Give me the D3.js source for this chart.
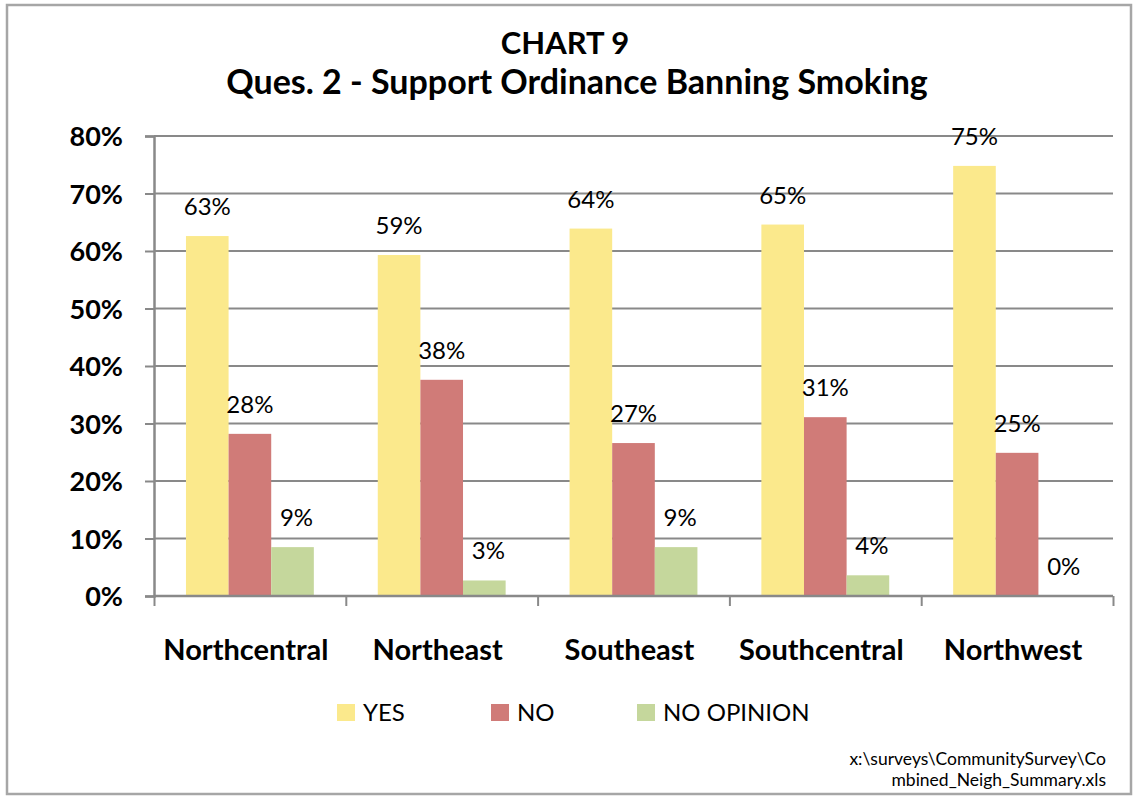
<!DOCTYPE html>
<html>
<head>
<meta charset="utf-8">
<script src="https://cdn.jsdelivr.net/npm/d3@7"></script>
<style>
  html, body { margin: 0; padding: 0; background: #fff; }
  svg { display: block; }
  text { font-family: Lato, "Open Sans", sans-serif; fill: #000; }
</style>
</head>
<body>
<script>
// ---- data ----
const categories = ["Northcentral", "Northeast", "Southeast", "Southcentral", "Northwest"];
const seriesNames = ["YES", "NO", "NO OPINION"];
const yesValues = [62.6, 59.3, 63.9, 64.6, 74.8];
const noValues = [28.2, 37.6, 26.6, 31.1, 24.9];
const noOpinionValues = [8.5, 2.7, 8.5, 3.6, 0];
const yTicks = [0, 10, 20, 30, 40, 50, 60, 70, 80];
const titleLines = ["CHART 9", "Ques. 2 - Support Ordinance Banning Smoking"];
const footnoteLines = ["x:\\surveys\\CommunitySurvey\\Co", "mbined_Neigh_Summary.xls"];

const colors = ["#fbe98c", "#d07b78", "#c5d79c"];
const seriesValues = [yesValues, noValues, noOpinionValues];

(function () {
const W = 1134, H = 796;
const svg = d3.select("body").append("svg").attr("width", W).attr("height", H);

// outer frame
svg.append("rect").attr("x", 7).attr("y", 5).attr("width", 1124).attr("height", 789)
  .attr("fill", "#fff").attr("stroke", "#a6a6a6").attr("stroke-width", 2.5);

// plot area
const pLeft = 154, pRight = 1113, pTop = 136, pBottom = 596;
const x0 = d3.scaleBand().domain(categories).range([pLeft, pRight]).paddingInner(0).paddingOuter(0);
const x1 = d3.scaleBand().domain(seriesNames).range([0, x0.bandwidth()]).paddingInner(0).paddingOuter(0.75);
const y = d3.scaleLinear().domain([0, 80]).range([pBottom, pTop]);

const grid = "#898989";

// gridlines
svg.append("g").selectAll("line").data(yTicks.filter(d => d > 0)).join("line")
  .attr("x1", pLeft).attr("x2", pRight)
  .attr("y1", d => y(d)).attr("y2", d => y(d))
  .attr("stroke", grid).attr("stroke-width", 2);

// bars
const groups = svg.append("g").selectAll("g").data(categories).join("g")
  .attr("transform", d => `translate(${x0(d)},0)`);

groups.selectAll("rect").data((c, i) => seriesNames.map((s, j) => ({ s, j, v: seriesValues[j][i] })))
  .join("rect")
  .attr("x", d => x1(d.s))
  .attr("width", x1.bandwidth())
  .attr("y", d => y(d.v))
  .attr("height", d => y(0) - y(d.v))
  .attr("fill", d => colors[d.j]);

// value labels
groups.selectAll("text").data((c, i) => seriesNames.map((s, j) => ({ s, j, v: seriesValues[j][i] })))
  .join("text")
  .attr("x", d => x1(d.s) + x1.bandwidth() / 2 + (d.j === 2 ? 4 : 0))
  .attr("y", d => y(d.v) - 21)
  .attr("text-anchor", "middle")
  .attr("font-size", 24)
  .text(d => Math.round(d.v) + "%");

// y axis
const yAxis = d3.axisLeft(y).tickValues(yTicks).tickSize(9).tickFormat(d => d + "%");
const gy = svg.append("g").attr("transform", `translate(${pLeft},0)`).call(yAxis);
gy.select(".domain").attr("stroke", grid).attr("stroke-width", 2.5);
gy.selectAll(".tick line").attr("stroke", grid).attr("stroke-width", 2);
gy.selectAll(".tick text").attr("x", -31).attr("dy", "0.36em")
  .attr("font-size", 27).attr("font-weight", "bold")
  .style("font-family", "Lato, sans-serif").attr("fill", "#000");

// x axis
const xAxis = d3.axisBottom(d3.scaleLinear().domain([0, 5]).range([pLeft, pRight]))
  .tickValues([0, 1, 2, 3, 4, 5]).tickSize(10).tickFormat("");
const gx = svg.append("g").attr("transform", `translate(0,${pBottom})`).call(xAxis);
gx.select(".domain").attr("stroke", grid).attr("stroke-width", 2.5).attr("d", `M${pLeft},0H${pRight}`);
gx.selectAll(".tick line").attr("stroke", grid).attr("stroke-width", 2);

// category labels
svg.append("g").selectAll("text").data(categories).join("text")
  .attr("x", d => x0(d) + x0.bandwidth() / 2 - 4)
  .attr("y", 660)
  .attr("text-anchor", "middle")
  .attr("font-size", 29).attr("font-weight", "bold")
  .text(d => d);

// title
svg.append("text").attr("x", 565).attr("y", 54).attr("text-anchor", "middle")
  .attr("font-size", 31).attr("font-weight", "bold").text(titleLines[0]);
svg.append("text").attr("x", 577).attr("y", 94).attr("text-anchor", "middle")
  .attr("font-size", 34).attr("font-weight", "bold").text(titleLines[1]);

// legend
const legendX = [337, 491, 637];
const lg = svg.append("g").selectAll("g").data(seriesNames).join("g")
  .attr("transform", (d, i) => `translate(${legendX[i]},704)`);
lg.append("rect").attr("width", 18).attr("height", 17).attr("fill", (d, i) => colors[i]);
lg.append("text").attr("x", 26).attr("y", 17).attr("font-size", 24).text(d => d);

// footnote
svg.append("g").selectAll("text").data(footnoteLines).join("text")
  .attr("x", 1106).attr("y", (d, i) => 765 + i * 21)
  .attr("text-anchor", "end").attr("font-size", 17.5).text(d => d);
})();
</script>
</body>
</html>
